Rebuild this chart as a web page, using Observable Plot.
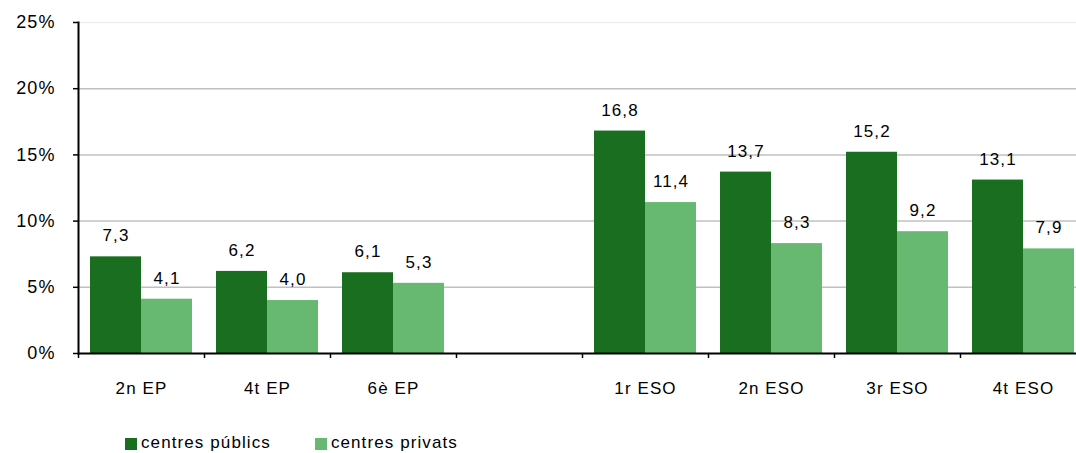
<!DOCTYPE html>
<html>
<head>
<meta charset="utf-8">
<script src="https://cdn.jsdelivr.net/npm/d3@7"></script>
<script src="https://cdn.jsdelivr.net/npm/@observablehq/plot@0.6"></script>
<style>
  html, body { margin: 0; padding: 0; background: #fff; overflow: hidden; }
  #wrap { position: relative; width: 1076px; height: 453px; }
  #legend { position: absolute; left: 125px; top: 433px; display: flex; align-items: center;
            font-family: "Liberation Sans", Arial, sans-serif; font-size: 17px; letter-spacing: 1.1px; color: #000; }
  .item { display: flex; align-items: center; margin-right: 44px; }
  .sw { width: 12px; height: 12px; margin-right: 4px; margin-top: 2px; }
</style>
</head>
<body>
<div id="wrap"><div id="chart"></div><div id="legend"></div></div>
<script>
const categories = ["2n EP", "4t EP", "6è EP", " ", "1r ESO", "2n ESO", "3r ESO", "4t ESO"];
const publics = [7.3, 6.2, 6.1, null, 16.8, 13.7, 15.2, 13.1];
const privats = [4.1, 4.0, 5.3, null, 11.4, 8.3, 9.2, 7.9];
const series = ["centres públics", "centres privats"];
const colors = ["#1a6e1f", "#67b971"];
const yTicks = [0, 5, 10, 15, 20, 25];

const data = [];
categories.forEach((c, i) => {
  [publics, privats].forEach((arr, j) => {
    data.push({cat: c, series: series[j], value: arr[i]});
  });
});

const W = 1076, H = 415, ML = 78, MR = -10;
const band = (W - ML - MR) / categories.length;

const chart = Plot.plot({
  width: W, height: H,
  marginTop: 22, marginBottom: 62, marginLeft: ML, marginRight: MR,
  style: {fontFamily: "'Liberation Sans', Arial, sans-serif", fontSize: "17px", letterSpacing: "1.1px", color: "#000", background: "#fff", overflow: "visible"},
  fx: {domain: categories, padding: 0, axis: null, label: null},
  x: {domain: series, paddingInner: 0, paddingOuter: 0.22, axis: null},
  y: {domain: [0, 25], axis: null},
  color: {domain: series, range: colors},
  marks: [
    Plot.ruleY([25], {stroke: "#eeeeee", strokeWidth: 1.5}),
    Plot.ruleY(yTicks.filter(d => d > 0 && d < 25), {stroke: "#c0c0c0", strokeWidth: 1.5}),
    Plot.barY(data, {fx: "cat", x: "series", y: "value", fill: "series"}),
    Plot.text(data, {fx: "cat", x: "series", y: "value", text: d => d.value == null ? null : d.value.toFixed(1).replace(".", ","), dy: -21, fill: "#000"}),
    Plot.ruleY([0], {stroke: "#000", strokeWidth: 2}),
    Plot.axisY(yTicks, {anchor: "left", tickFormat: d => d + "%", tickSize: 5, tickPadding: 18, fontSize: 18, strokeWidth: 1.5, label: null}),
    Plot.frame({anchor: "left", facetAnchor: "left", stroke: "#000", strokeWidth: 2}),
    Plot.axisFx({anchor: "bottom", tickSize: 0, tickPadding: 28, label: null}),
    Plot.axisFx({anchor: "bottom", tickSize: 5, text: null, dx: -band / 2, label: null, strokeWidth: 1.5})
  ]
});
document.getElementById("chart").appendChild(chart);

const legend = document.getElementById("legend");
series.forEach((s, i) => {
  const it = document.createElement("div");
  it.className = "item";
  const sw = document.createElement("div");
  sw.className = "sw";
  sw.style.background = colors[i];
  const t = document.createElement("span");
  t.textContent = s;
  it.appendChild(sw); it.appendChild(t);
  legend.appendChild(it);
});
</script>
</body>
</html>
